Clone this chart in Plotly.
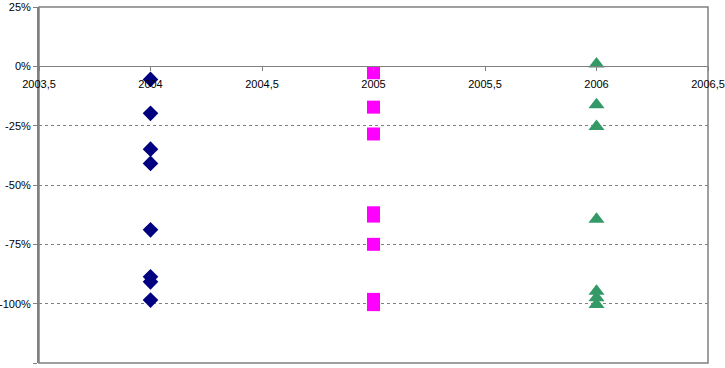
import plotly.graph_objects as go

# Data
years = [2004, 2005, 2006]
vals_2004 = [-0.055, -0.198, -0.349, -0.409, -0.689, -0.887, -0.908, -0.985]
vals_2005 = [-0.027, -0.172, -0.285, -0.617, -0.631, -0.750, -0.982, -1.004]
vals_2006 = [0.010, -0.162, -0.253, -0.644, -0.948, -0.975, -1.004]

x_tickvals = [2003.5, 2004, 2004.5, 2005, 2005.5, 2006, 2006.5]
x_ticktext = ["2003,5", "2004", "2004,5", "2005", "2005,5", "2006", "2006,5"]
y_tickvals = [0.25, 0, -0.25, -0.5, -0.75, -1.0, -1.25]
y_ticktext = ["25%", "0%", "-25%", "-50%", "-75%", "-100%", "-125%"]

y_min, y_max = -1.25, 0.25

fig = go.Figure()
fig.add_trace(go.Scatter(x=[years[0]] * len(vals_2004), y=vals_2004, mode="markers",
                         marker=dict(symbol="diamond", size=12, color="#000080", line=dict(width=0)),
                         showlegend=False, cliponaxis=False))
fig.add_trace(go.Scatter(x=[years[1]] * len(vals_2005), y=vals_2005, mode="markers",
                         marker=dict(symbol="square", size=13, color="#FF00FF", line=dict(width=0)),
                         showlegend=False, cliponaxis=False))
fig.add_trace(go.Scatter(x=[years[2]] * len(vals_2006), y=vals_2006, mode="markers",
                         marker=dict(symbol="triangle-up", size=14, color="#339966", line=dict(width=0)),
                         showlegend=False, cliponaxis=False))

zero_pos = (0 - y_min) / (y_max - y_min)

fig.update_layout(
    width=725, height=368,
    margin=dict(l=39, r=17, t=7, b=5, autoexpand=False),
    paper_bgcolor="white", plot_bgcolor="white",
    font=dict(family="Liberation Sans, Arial, sans-serif", size=11, color="black"),
    xaxis=dict(range=[2003.5, 2006.5], tickvals=x_tickvals, ticktext=x_ticktext,
               anchor="free", position=zero_pos, side="bottom", automargin=False,
               showline=True, linecolor="#808080", linewidth=1,
               ticks="outside", ticklen=4, tickcolor="#808080",
               ticklabelstandoff=3,
               showgrid=False, zeroline=False),
    yaxis=dict(range=[y_min, y_max], tickvals=y_tickvals, ticktext=y_ticktext,
               automargin=False,
               showline=True, linecolor="#808080", linewidth=2,
               ticks="outside", ticklen=4, tickcolor="#808080",
               showgrid=True, gridcolor="#808080", griddash="3px,3px", gridwidth=1,
               zeroline=False),
    shapes=[dict(type="rect", xref="paper", yref="paper", x0=0, x1=1, y0=0, y1=1,
                 line=dict(color="#808080", width=1.5), layer="below")],
)

fig.write_html("out.html", config={"displayModeBar": False},
               post_script="document.body.style.margin='0';document.body.style.overflow='hidden';")
